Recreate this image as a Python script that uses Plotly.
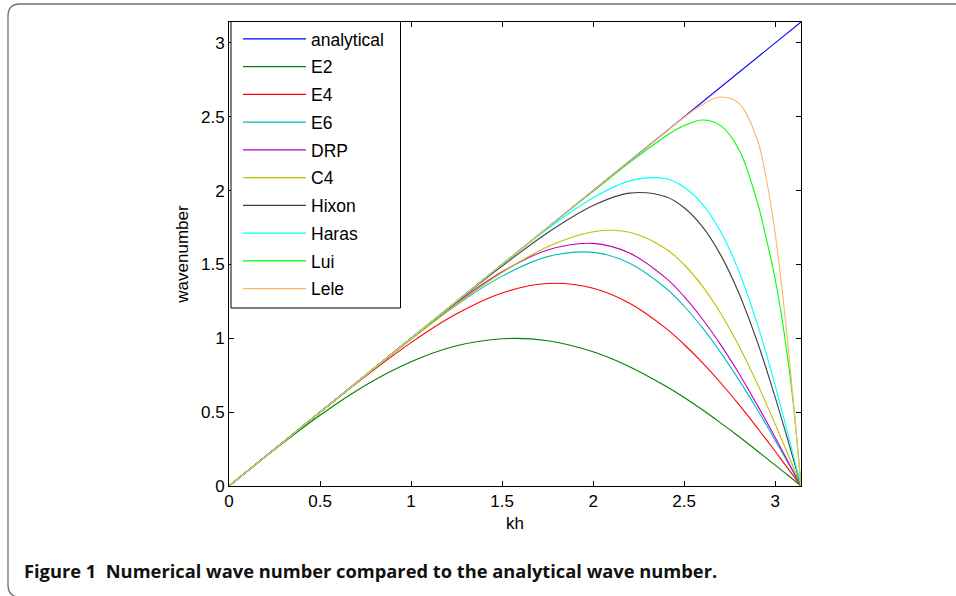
import plotly.graph_objects as go

# ---------------- data ----------------
kh = [0, 0.25, 0.5, 0.75, 1.0, 1.25, 1.5, 1.75, 2.0, 2.2, 2.4, 2.5, 2.6, 2.7, 2.8, 2.9, 2.95, 3.0, 3.05, 3.1, 3.1416]

analytical_kh = [0, 3.1416]
analytical = [0, 3.1416]

E2 = [0, 0.247, 0.479, 0.682, 0.841, 0.949, 0.997, 0.984, 0.909, 0.808, 0.675, 0.599, 0.516, 0.427, 0.335, 0.239, 0.190, 0.141, 0.092, 0.042, 0]
E4 = [0, 0.250, 0.499, 0.743, 0.971, 1.166, 1.307, 1.371, 1.339, 1.237, 1.067, 0.958, 0.835, 0.699, 0.552, 0.396, 0.316, 0.235, 0.152, 0.069, 0]
E6 = [0, 0.250, 0.500, 0.749, 0.994, 1.225, 1.421, 1.553, 1.582, 1.509, 1.339, 1.217, 1.072, 0.905, 0.720, 0.520, 0.416, 0.309, 0.201, 0.092, 0]
DRP = [0, 0.250, 0.500, 0.751, 1.000, 1.240, 1.450, 1.598, 1.643, 1.577, 1.407, 1.282, 1.131, 0.957, 0.763, 0.551, 0.441, 0.328, 0.213, 0.097, 0]
C4 = [0, 0.250, 0.500, 0.749, 0.994, 1.230, 1.445, 1.620, 1.722, 1.718, 1.605, 1.498, 1.353, 1.170, 0.950, 0.697, 0.561, 0.419, 0.273, 0.125, 0]
Hixon = [0, 0.250, 0.500, 0.750, 1.000, 1.247, 1.489, 1.715, 1.899, 1.983, 1.958, 1.884, 1.756, 1.565, 1.307, 0.982, 0.797, 0.600, 0.393, 0.180, 0]
Haras = [0, 0.250, 0.500, 0.750, 1.001, 1.252, 1.501, 1.741, 1.951, 2.066, 2.080, 2.023, 1.909, 1.723, 1.456, 1.104, 0.900, 0.680, 0.447, 0.205, 0]
Lui = [0, 0.250, 0.500, 0.750, 1.000, 1.250, 1.500, 1.750, 1.995, 2.190, 2.370, 2.440, 2.478, 2.440, 2.280, 1.930, 1.680, 1.400, 1.030, 0.550, 0]
Lele = [0, 0.250, 0.500, 0.750, 1.000, 1.250, 1.501, 1.751, 2.000, 2.200, 2.400, 2.497, 2.583, 2.634, 2.592, 2.351, 2.087, 1.706, 1.194, 0.570, 0]

names = ["analytical", "E2", "E4", "E6", "DRP", "C4", "Hixon", "Haras", "Lui", "Lele"]
series = [analytical, E2, E4, E6, DRP, C4, Hixon, Haras, Lui, Lele]
colors = ["#0000FF", "#008000", "#FF0000", "#00BFBF", "#BF00BF", "#BFBF00",
          "#404040", "#00FFFF", "#00FF00", "#FFB468"]

x_ticks = [0, 0.5, 1, 1.5, 2, 2.5, 3]
x_tick_labels = ["0", "0.5", "1", "1.5", "2", "2.5", "3"]
y_ticks = [0, 0.5, 1, 1.5, 2, 2.5, 3]
y_tick_labels = ["0", "0.5", "1", "1.5", "2", "2.5", "3"]

x_title = "kh"
y_title = "wavenumber"
caption = "Figure 1\u00a0\u00a0Numerical wave number compared to the analytical wave number."

# ---------------- figure ----------------
W, H = 956, 596
ML, MR, MT, MB = 229, 155, 22, 110
PW, PH = W - ML - MR, H - MT - MB

def px(xp):
    return (xp - ML) / PW

def py(yp):
    return (H - MB - yp) / PH

FONT = "Liberation Sans, Arial, Helvetica, sans-serif"

fig = go.Figure()
for name, ys, col in zip(names, series, colors):
    xs = analytical_kh if name == "analytical" else kh
    fig.add_trace(go.Scatter(
        x=xs, y=ys, mode="lines", name=name,
        line=dict(color=col, width=1.1,
                  shape="linear" if name == "analytical" else "spline", smoothing=1.0),
        legendgroup=name,
    ))

axis_common = dict(
    showgrid=False, zeroline=False, showline=True, linecolor="black", linewidth=1,
    mirror="ticks", ticks="inside", ticklen=5, tickwidth=1, tickcolor="black",
    tickfont=dict(family=FONT, size=17, color="black"),
)

fig.update_xaxes(range=[0, 3.1416], tickvals=x_ticks, ticktext=x_tick_labels,
                 title=dict(text=x_title, font=dict(family=FONT, size=17, color="black"), standoff=6),
                 **axis_common)
fig.update_yaxes(range=[0, 3.1416], tickvals=y_ticks, ticktext=y_tick_labels,
                 title=dict(text=y_title, font=dict(family=FONT, size=17, color="black"), standoff=8),
                 **axis_common)

# rounded frame around the figure
path = (f"M {px(960)},{py(4)} L {px(20)},{py(4)} Q {px(8)},{py(4)} {px(8)},{py(16)} "
        f"L {px(8)},{py(585)} Q {px(8)},{py(597)} {px(20)},{py(597)} L {px(960)},{py(597)}")
fig.add_shape(type="path", path=path, xref="paper", yref="paper",
              line=dict(color="#707070", width=1.3), layer="below")

# legend box
fig.add_shape(type="rect", xref="paper", yref="paper",
              x0=px(231), x1=px(400.5), y0=py(308), y1=py(21.5),
              line=dict(color="black", width=1), fillcolor="white", layer="above")

fig.add_annotation(text="<b>" + caption + "</b>", xref="paper", yref="paper",
                   x=px(22), y=py(570), xanchor="left", yanchor="middle", showarrow=False,
                   font=dict(family="Open Sans, sans-serif", size=18.3, color="#111111"))

fig.update_layout(
    width=W, height=H,
    margin=dict(l=ML, r=MR, t=MT, b=MB, autoexpand=False),
    paper_bgcolor="white", plot_bgcolor="white",
    showlegend=True,
    legend=dict(x=px(238), y=py(21), xanchor="left", yanchor="top",
                bgcolor="rgba(0,0,0,0)", borderwidth=0,
                font=dict(family=FONT, size=17.5, color="black"),
                itemwidth=63, tracegroupgap=2, traceorder="grouped"),
)

fig.write_html("out.html", config={"displayModeBar": False},
               post_script="document.body.style.margin='0px';")
